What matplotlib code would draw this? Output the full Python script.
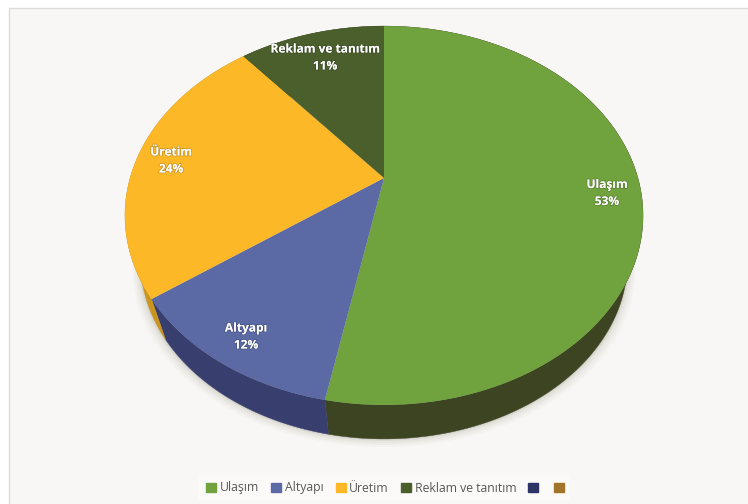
import numpy as np
import matplotlib
matplotlib.use('Agg')
import matplotlib.pyplot as plt
import matplotlib.patheffects as pe
from matplotlib.patches import Patch, Rectangle

labels = ['Ulaşım', 'Altyapı', 'Üretim', 'Reklam ve tanıtım']
values = [53, 12, 24, 11]
top_colors = ['#70A33E', '#5B69A5', '#FDB827', '#4B5F2C']
side_colors = ['#3C4422', '#383F6E', '#C9951F', '#2F3A1A']
extra_colors = ['#2E3566', '#A0752A']

plt.rcParams['font.family'] = ['Open Sans', 'DejaVu Sans']

# perspective of the disc, in image pixels
cx, cy = 384, 178
persp = 0.198
sx, sy = 253.9, 182
# lower disc is a bit smaller than the top one
low_scale = 0.94
low_cy = 225.6


def project(th):
    u = -np.cos(th)
    v = np.sin(th)
    d = 1 - persp * u
    return cx + sx * v / d, cy + sy * u / d


def project_low(th):
    x, y = project(th)
    return cx + (x - cx) * low_scale, low_cy + (y - cy) * low_scale


fig = plt.figure(figsize=(7.48, 5.04), dpi=100)
ax = fig.add_axes([0, 0, 1, 1])
ax.set_xlim(0, 748)
ax.set_ylim(504, 0)
ax.axis('off')

# panel
ax.add_patch(Rectangle((9.5, 7.5), 760, 520, fc='#F8F7F5', ec='#DDDBD8', lw=1, zorder=0))
ax.add_patch(Rectangle((198, 474), 372, 26, fc='#FBFAF9', ec='none', zorder=1))

# soft shadow under the pie
t = np.linspace(0, 2 * np.pi, 361)
px, py = project_low(t)
for grow, alpha in [(8, 0.03), (6, 0.04), (4, 0.05), (2, 0.07), (1, 0.08)]:
    ax.fill(cx + (px - cx) * (1 + grow / 243), py + grow, color='#6B6350', alpha=alpha, lw=0, zorder=2)

# slice edges from the values
edges = np.cumsum([0] + values) / sum(values) * 2 * np.pi

# side wall, the back part ends up hidden by the top
for i in range(len(values)):
    th = np.linspace(edges[i], edges[i + 1], 200)
    x, y = project(th)
    xl, yl = project_low(th)
    ax.fill(np.r_[x, xl[::-1]], np.r_[y, yl[::-1]], color=side_colors[i], lw=0.3, zorder=3)

# top of the pie
for i in range(len(values)):
    th = np.linspace(edges[i], edges[i + 1], 200)
    x, y = project(th)
    ax.fill(np.r_[cx, x], np.r_[cy, y], color=top_colors[i], lw=0, zorder=4)

# data labels
label_pos = [(607, 193), (246, 336.5), (171, 160.5), (325, 57.5)]
for name, val, (lx, ly) in zip(labels, values, label_pos):
    ax.text(lx, ly, f'{name}\n{val}%', color='white', fontsize=8.6, fontweight='bold',
            ha='center', va='center', linespacing=1.4, zorder=6,
            path_effects=[pe.withStroke(linewidth=1.2, foreground='#00000030')])

# legend
handles = [Patch(color=c) for c in top_colors + extra_colors]
ax.legend(handles, labels + ['', ''], ncol=6, loc='center', bbox_to_anchor=(387 / 748, 1 - 488 / 504),
          frameon=False, fontsize=8.8, labelcolor='#595959', handlelength=0.8, handleheight=0.8,
          handletextpad=0.3, columnspacing=1.0, borderpad=0)

fig.savefig('out.png', dpi=100)
